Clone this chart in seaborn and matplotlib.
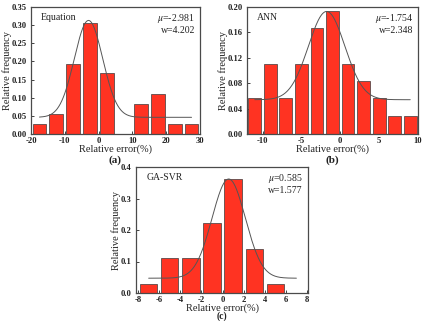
import numpy as np
import pandas as pd
import matplotlib
matplotlib.use("Agg")
import matplotlib.pyplot as plt
import seaborn as sns

sns.set_theme(style="ticks")
plt.rcParams['font.family'] = ['Liberation Serif', 'DejaVu Serif']
plt.rcParams['mathtext.fontset'] = 'stix'

# ---------------- data ----------------
# (a) Equation
a_edges = [-20, -15, -10, -5, 0, 5, 10, 15, 20, 25, 30]
a_freq = [0.028, 0.056, 0.194, 0.306, 0.167, 0.0, 0.083, 0.111, 0.028, 0.028]
a_mu, a_w, a_y0, a_A = -2.981, 4.202, 0.046, 0.267
a_curve_range = (-17.5, 27.5)

# (b) ANN
b_edges = [-12, -10, -8, -6, -4, -2, 0, 2, 4, 6, 8, 10]
b_freq = [0.056, 0.111, 0.056, 0.111, 0.167, 0.194, 0.111, 0.083, 0.056, 0.028, 0.028]
b_mu, b_w, b_y0, b_A = -1.754, 2.348, 0.054, 0.139
b_curve_range = (-11, 9)

# (c) GA-SVR
c_edges = [-8, -6, -4, -2, 0, 2, 4, 6]
c_freq = [0.028, 0.111, 0.111, 0.222, 0.361, 0.139, 0.028]
c_mu, c_w, c_y0, c_A = 0.585, 1.577, 0.047, 0.315
c_curve_range = (-7, 7)

panels = [
    dict(name="Equation", label="(a)", edges=a_edges, freq=a_freq, mu=a_mu, w=a_w, y0=a_y0, A=a_A,
         cr=a_curve_range, xlim=(-20, 30), xticks=[-20, -10, 0, 10, 20, 30],
         ylim=(0, 0.35), yticks=[0.0, 0.05, 0.10, 0.15, 0.20, 0.25, 0.30, 0.35], yfmt="{:.2f}",
         mu_txt="-2.981", w_txt="4.202", lab_px=155, lab_fs=8,
         rect=[31/425, 1-134/321, 169/425, 127/321]),
    dict(name="ANN", label="(b)", edges=b_edges, freq=b_freq, mu=b_mu, w=b_w, y0=b_y0, A=b_A,
         cr=b_curve_range, xlim=(-12, 10), xticks=[-10, -5, 0, 5, 10],
         ylim=(0, 0.20), yticks=[0.0, 0.04, 0.08, 0.12, 0.16, 0.20], yfmt="{:.2f}",
         mu_txt="-1.754", w_txt="2.348", lab_px=155, lab_fs=8,
         rect=[247/425, 1-134/321, 171/425, 127/321]),
    dict(name="GA-SVR", label="(c)", edges=c_edges, freq=c_freq, mu=c_mu, w=c_w, y0=c_y0, A=c_A,
         cr=c_curve_range, xlim=(-8.2, 8.1), xticks=[-8, -6, -4, -2, 0, 2, 4, 6, 8],
         ylim=(0, 0.4), yticks=[0.0, 0.1, 0.2, 0.3, 0.4], yfmt="{:.1f}",
         mu_txt="0.585", w_txt="1.577", lab_px=311.5, lab_fs=7,
         rect=[136/425, 1-293/321, 172/425, 126/321]),
]

fig = plt.figure(figsize=(4.25, 3.21), dpi=100)
fig.patch.set_facecolor("white")

bar_color = "#FF3322"
edge_color = "#3a3a3a"
frame_color = "#4a4a4a"

for p in panels:
    ax = fig.add_axes(p["rect"])
    ax.set_facecolor("white")
    edges = [float(e) for e in p["edges"]]
    centers = [(edges[i] + edges[i + 1]) / 2 for i in range(len(edges) - 1)]
    df = pd.DataFrame({"x": centers, "f": p["freq"]})
    sns.histplot(data=df, x="x", weights="f", bins=edges, shrink=0.82, ax=ax,
                 color=bar_color, alpha=1, edgecolor=edge_color, linewidth=0.5)
    xs = np.linspace(p["cr"][0], p["cr"][1], 300)
    ys = p["y0"] + p["A"] * np.exp(-(xs - p["mu"]) ** 2 / (2 * p["w"] ** 2))
    sns.lineplot(x=xs, y=ys, ax=ax, color="#555555", linewidth=0.7)

    ax.set_xlim(*p["xlim"])
    ax.set_ylim(*p["ylim"])
    ax.set_xticks(p["xticks"])
    ax.set_xticklabels([str(t) for t in p["xticks"]])
    ax.set_yticks(p["yticks"])
    ax.set_yticklabels([p["yfmt"].format(t) for t in p["yticks"]])
    ax.tick_params(axis="x", direction="in", length=2.5, width=0.6, labelsize=6.2, pad=2,
                   colors="#222222")
    ax.tick_params(axis="y", direction="in", length=2.5, width=0.6, labelsize=6.2, pad=3,
                   colors="#222222")
    for lab in ax.get_xticklabels() + ax.get_yticklabels():
        lab.set_fontweight("bold")
    for s in ax.spines.values():
        s.set_visible(True)
        s.set_color(frame_color)
        s.set_linewidth(0.9)
    ax.set_xlabel("Relative error(%)", fontsize=7.5, labelpad=-0.5, color="#222222")
    ax.set_ylabel("Relative frequency", fontsize=7.5, labelpad=0, color="#222222")
    ax.text(0.06, 0.95, p["name"], transform=ax.transAxes, fontsize=7, va="top", ha="left",
            color="#222222")
    ax.text(0.97, 0.96, r"$\mu$=" + p["mu_txt"] + "\nw=" + p["w_txt"], transform=ax.transAxes,
            fontsize=7, va="top", ha="right", color="#222222", linespacing=1.15)
    cx = p["rect"][0] + p["rect"][2] / 2
    fig.text(cx, 1 - p["lab_px"] / 321, p["label"], fontsize=p["lab_fs"],
             fontweight="bold", va="top", ha="center", color="#222222")

fig.savefig("out.png", dpi=100, facecolor="white")
